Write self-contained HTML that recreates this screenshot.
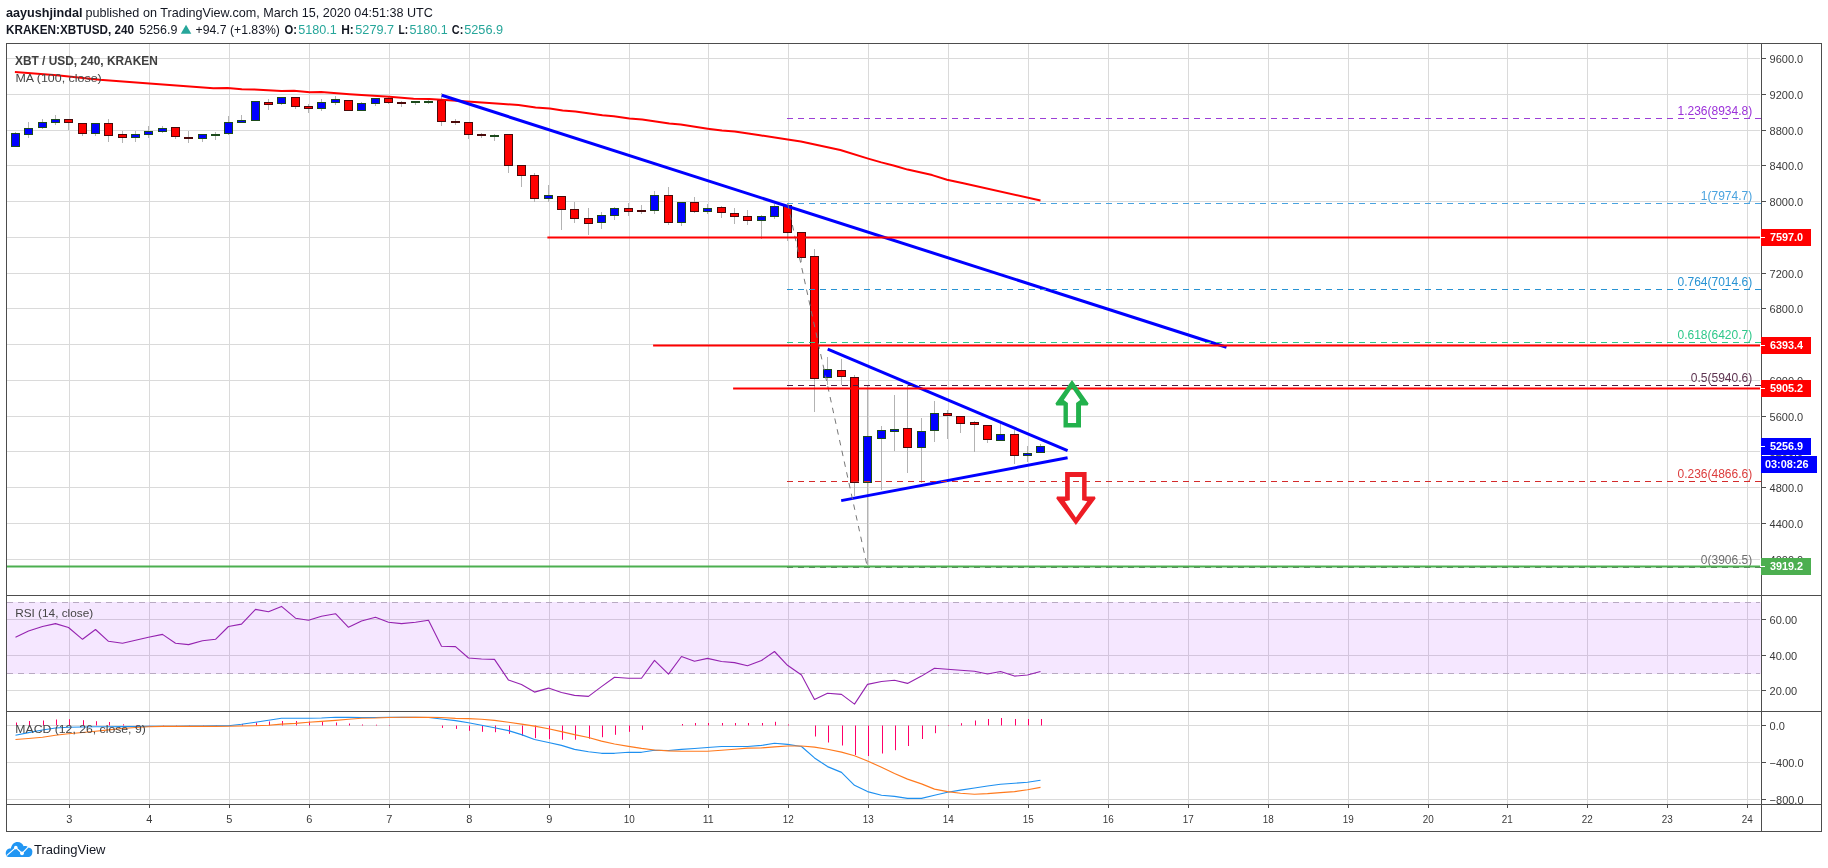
<!DOCTYPE html>
<html><head><meta charset="utf-8"><title>XBTUSD chart</title>
<style>html,body{margin:0;padding:0;background:#fff;}body{width:1828px;height:868px;overflow:hidden;}svg{display:block;will-change:transform;font-family:'Liberation Sans', Arial, sans-serif;}</style></head><body>
<svg width="1828" height="868" viewBox="0 0 1828 868">
<rect x="0" y="0" width="1828" height="868" fill="#ffffff"/>
<text x="6.0" y="17.0" font-size="13" font-weight="bold" fill="#131722" text-anchor="start" textLength="76.5" lengthAdjust="spacingAndGlyphs">aayushjindal</text>
<text x="85.4" y="17.0" font-size="13" fill="#131722" text-anchor="start" textLength="347.5" lengthAdjust="spacingAndGlyphs">published on TradingView.com, March 15, 2020 04:51:38 UTC</text>
<text x="6.0" y="33.7" font-size="13" font-weight="bold" fill="#131722" text-anchor="start" textLength="128.0" lengthAdjust="spacingAndGlyphs">KRAKEN:XBTUSD, 240</text>
<text x="139.2" y="33.7" font-size="13" fill="#131722" text-anchor="start" textLength="38.2" lengthAdjust="spacingAndGlyphs">5256.9</text>
<polygon points="180.8,33.7 191.3,33.7 186.05,24.7" fill="#26a69a"/>
<text x="195.6" y="33.7" font-size="13" fill="#131722" text-anchor="start" textLength="84.3" lengthAdjust="spacingAndGlyphs">+94.7 (+1.83%)</text>
<text x="284.4" y="33.7" font-size="13" font-weight="bold" fill="#131722" text-anchor="start" textLength="12.5" lengthAdjust="spacingAndGlyphs">O:</text>
<text x="298.2" y="33.7" font-size="13" fill="#26a69a" text-anchor="start" textLength="38.6" lengthAdjust="spacingAndGlyphs">5180.1</text>
<text x="341.2" y="33.7" font-size="13" font-weight="bold" fill="#131722" text-anchor="start" textLength="12.6" lengthAdjust="spacingAndGlyphs">H:</text>
<text x="355.3" y="33.7" font-size="13" fill="#26a69a" text-anchor="start" textLength="38.8" lengthAdjust="spacingAndGlyphs">5279.7</text>
<text x="398.5" y="33.7" font-size="13" font-weight="bold" fill="#131722" text-anchor="start" textLength="9.6" lengthAdjust="spacingAndGlyphs">L:</text>
<text x="409.4" y="33.7" font-size="13" fill="#26a69a" text-anchor="start" textLength="38.4" lengthAdjust="spacingAndGlyphs">5180.1</text>
<text x="451.8" y="33.7" font-size="13" font-weight="bold" fill="#131722" text-anchor="start" textLength="11.5" lengthAdjust="spacingAndGlyphs">C:</text>
<text x="464.2" y="33.7" font-size="13" fill="#26a69a" text-anchor="start" textLength="38.9" lengthAdjust="spacingAndGlyphs">5256.9</text>
<g shape-rendering="crispEdges"><rect x="69" y="44" width="1" height="760" fill="#dadada"/><rect x="149" y="44" width="1" height="760" fill="#dadada"/><rect x="229" y="44" width="1" height="760" fill="#dadada"/><rect x="309" y="44" width="1" height="760" fill="#dadada"/><rect x="389" y="44" width="1" height="760" fill="#dadada"/><rect x="469" y="44" width="1" height="760" fill="#dadada"/><rect x="549" y="44" width="1" height="760" fill="#dadada"/><rect x="629" y="44" width="1" height="760" fill="#dadada"/><rect x="708" y="44" width="1" height="760" fill="#dadada"/><rect x="788" y="44" width="1" height="760" fill="#dadada"/><rect x="868" y="44" width="1" height="760" fill="#dadada"/><rect x="948" y="44" width="1" height="760" fill="#dadada"/><rect x="1028" y="44" width="1" height="760" fill="#dadada"/><rect x="1108" y="44" width="1" height="760" fill="#dadada"/><rect x="1188" y="44" width="1" height="760" fill="#dadada"/><rect x="1268" y="44" width="1" height="760" fill="#dadada"/><rect x="1348" y="44" width="1" height="760" fill="#dadada"/><rect x="1428" y="44" width="1" height="760" fill="#dadada"/><rect x="1507" y="44" width="1" height="760" fill="#dadada"/><rect x="1587" y="44" width="1" height="760" fill="#dadada"/><rect x="1667" y="44" width="1" height="760" fill="#dadada"/><rect x="1747" y="44" width="1" height="760" fill="#dadada"/><rect x="7" y="58" width="1753" height="1" fill="#dadada"/><rect x="7" y="94" width="1753" height="1" fill="#dadada"/><rect x="7" y="130" width="1753" height="1" fill="#dadada"/><rect x="7" y="165" width="1753" height="1" fill="#dadada"/><rect x="7" y="201" width="1753" height="1" fill="#dadada"/><rect x="7" y="237" width="1753" height="1" fill="#dadada"/><rect x="7" y="273" width="1753" height="1" fill="#dadada"/><rect x="7" y="308" width="1753" height="1" fill="#dadada"/><rect x="7" y="344" width="1753" height="1" fill="#dadada"/><rect x="7" y="380" width="1753" height="1" fill="#dadada"/><rect x="7" y="416" width="1753" height="1" fill="#dadada"/><rect x="7" y="451" width="1753" height="1" fill="#dadada"/><rect x="7" y="487" width="1753" height="1" fill="#dadada"/><rect x="7" y="523" width="1753" height="1" fill="#dadada"/><rect x="7" y="559" width="1753" height="1" fill="#dadada"/><rect x="7" y="619" width="1753" height="1" fill="#dadada"/><rect x="7" y="655" width="1753" height="1" fill="#dadada"/><rect x="7" y="690" width="1753" height="1" fill="#dadada"/><rect x="7" y="725" width="1753" height="1" fill="#dadada"/><rect x="7" y="762" width="1753" height="1" fill="#dadada"/><rect x="7" y="799" width="1753" height="1" fill="#dadada"/></g>
<line x1="7" y1="602.5" x2="1760" y2="602.5" stroke="#bcbcbc" stroke-width="1" stroke-dasharray="6 5" shape-rendering="crispEdges"/>
<line x1="7" y1="673.5" x2="1760" y2="673.5" stroke="#bcbcbc" stroke-width="1" stroke-dasharray="6 5" shape-rendering="crispEdges"/>
<rect x="7" y="602" width="1754" height="72" fill="#9915ff" fill-opacity="0.1" shape-rendering="crispEdges"/>
<g shape-rendering="crispEdges"><rect x="15" y="132" width="1" height="15" fill="#b3b3b3"/><rect x="28" y="122" width="1" height="16" fill="#b3b3b3"/><rect x="42" y="119" width="1" height="10" fill="#b3b3b3"/><rect x="55" y="115" width="1" height="10" fill="#b3b3b3"/><rect x="68" y="119" width="1" height="11" fill="#b3b3b3"/><rect x="82" y="123" width="1" height="13" fill="#b3b3b3"/><rect x="95" y="123" width="1" height="13" fill="#b3b3b3"/><rect x="108" y="119" width="1" height="23" fill="#b3b3b3"/><rect x="122" y="131" width="1" height="12" fill="#b3b3b3"/><rect x="135" y="131" width="1" height="11" fill="#b3b3b3"/><rect x="148" y="126" width="1" height="12" fill="#b3b3b3"/><rect x="162" y="126" width="1" height="7" fill="#b3b3b3"/><rect x="175" y="127" width="1" height="12" fill="#b3b3b3"/><rect x="188" y="131" width="1" height="12" fill="#b3b3b3"/><rect x="202" y="134" width="1" height="8" fill="#b3b3b3"/><rect x="215" y="132" width="1" height="8" fill="#b3b3b3"/><rect x="228" y="116" width="1" height="19" fill="#b3b3b3"/><rect x="241" y="115" width="1" height="8" fill="#b3b3b3"/><rect x="255" y="101" width="1" height="20" fill="#b3b3b3"/><rect x="268" y="99" width="1" height="11" fill="#b3b3b3"/><rect x="281" y="97" width="1" height="8" fill="#b3b3b3"/><rect x="295" y="97" width="1" height="12" fill="#b3b3b3"/><rect x="308" y="104" width="1" height="9" fill="#b3b3b3"/><rect x="321" y="99" width="1" height="12" fill="#b3b3b3"/><rect x="335" y="96" width="1" height="9" fill="#b3b3b3"/><rect x="348" y="100" width="1" height="11" fill="#b3b3b3"/><rect x="361" y="102" width="1" height="9" fill="#b3b3b3"/><rect x="375" y="98" width="1" height="8" fill="#b3b3b3"/><rect x="388" y="96" width="1" height="8" fill="#b3b3b3"/><rect x="401" y="101" width="1" height="6" fill="#b3b3b3"/><rect x="415" y="101" width="1" height="4" fill="#b3b3b3"/><rect x="428" y="99" width="1" height="5" fill="#b3b3b3"/><rect x="441" y="93" width="1" height="33" fill="#b3b3b3"/><rect x="455" y="119" width="1" height="6" fill="#b3b3b3"/><rect x="468" y="122" width="1" height="17" fill="#b3b3b3"/><rect x="481" y="133" width="1" height="5" fill="#b3b3b3"/><rect x="494" y="134" width="1" height="7" fill="#b3b3b3"/><rect x="508" y="134" width="1" height="39" fill="#b3b3b3"/><rect x="521" y="165" width="1" height="22" fill="#b3b3b3"/><rect x="534" y="173" width="1" height="29" fill="#b3b3b3"/><rect x="548" y="185" width="1" height="17" fill="#b3b3b3"/><rect x="561" y="196" width="1" height="34" fill="#b3b3b3"/><rect x="574" y="202" width="1" height="21" fill="#b3b3b3"/><rect x="588" y="208" width="1" height="27" fill="#b3b3b3"/><rect x="601" y="212" width="1" height="17" fill="#b3b3b3"/><rect x="614" y="207" width="1" height="13" fill="#b3b3b3"/><rect x="628" y="203" width="1" height="13" fill="#b3b3b3"/><rect x="641" y="205" width="1" height="9" fill="#b3b3b3"/><rect x="654" y="191" width="1" height="23" fill="#b3b3b3"/><rect x="668" y="187" width="1" height="38" fill="#b3b3b3"/><rect x="681" y="202" width="1" height="24" fill="#b3b3b3"/><rect x="694" y="197" width="1" height="16" fill="#b3b3b3"/><rect x="707" y="204" width="1" height="10" fill="#b3b3b3"/><rect x="721" y="206" width="1" height="12" fill="#b3b3b3"/><rect x="734" y="208" width="1" height="16" fill="#b3b3b3"/><rect x="747" y="210" width="1" height="15" fill="#b3b3b3"/><rect x="761" y="215" width="1" height="24" fill="#b3b3b3"/><rect x="774" y="204" width="1" height="15" fill="#b3b3b3"/><rect x="787" y="205" width="1" height="36" fill="#b3b3b3"/><rect x="801" y="232" width="1" height="30" fill="#b3b3b3"/><rect x="814" y="249" width="1" height="163" fill="#b3b3b3"/><rect x="827" y="357" width="1" height="28" fill="#b3b3b3"/><rect x="841" y="359" width="1" height="26" fill="#b3b3b3"/><rect x="854" y="375" width="1" height="121" fill="#b3b3b3"/><rect x="867" y="386" width="1" height="179" fill="#b3b3b3"/><rect x="881" y="426" width="1" height="64" fill="#b3b3b3"/><rect x="894" y="395" width="1" height="56" fill="#b3b3b3"/><rect x="907" y="385" width="1" height="88" fill="#b3b3b3"/><rect x="921" y="418" width="1" height="65" fill="#b3b3b3"/><rect x="934" y="401" width="1" height="41" fill="#b3b3b3"/><rect x="947" y="410" width="1" height="29" fill="#b3b3b3"/><rect x="960" y="416" width="1" height="17" fill="#b3b3b3"/><rect x="974" y="421" width="1" height="31" fill="#b3b3b3"/><rect x="987" y="425" width="1" height="18" fill="#b3b3b3"/><rect x="1000" y="423" width="1" height="18" fill="#b3b3b3"/><rect x="1014" y="430" width="1" height="34" fill="#b3b3b3"/><rect x="1027" y="446" width="1" height="16" fill="#b3b3b3"/><rect x="1040" y="444" width="1" height="9" fill="#b3b3b3"/><rect x="11" y="133" width="9" height="14" fill="#1c4a1c"/><rect x="12" y="134" width="7" height="12" fill="#0000ff"/><rect x="24" y="128" width="9" height="7" fill="#1c4a1c"/><rect x="25" y="129" width="7" height="5" fill="#0000ff"/><rect x="38" y="122" width="9" height="6" fill="#1c4a1c"/><rect x="39" y="123" width="7" height="4" fill="#0000ff"/><rect x="51" y="119" width="9" height="4" fill="#1c4a1c"/><rect x="52" y="120" width="7" height="2" fill="#0000ff"/><rect x="64" y="119" width="9" height="4" fill="#4a0a0a"/><rect x="65" y="120" width="7" height="2" fill="#ff0000"/><rect x="78" y="123" width="9" height="11" fill="#4a0a0a"/><rect x="79" y="124" width="7" height="9" fill="#ff0000"/><rect x="91" y="123" width="9" height="11" fill="#1c4a1c"/><rect x="92" y="124" width="7" height="9" fill="#0000ff"/><rect x="104" y="123" width="9" height="13" fill="#4a0a0a"/><rect x="105" y="124" width="7" height="11" fill="#ff0000"/><rect x="118" y="134" width="9" height="4" fill="#4a0a0a"/><rect x="119" y="135" width="7" height="2" fill="#ff0000"/><rect x="131" y="134" width="9" height="4" fill="#1c4a1c"/><rect x="132" y="135" width="7" height="2" fill="#0000ff"/><rect x="144" y="131" width="9" height="4" fill="#1c4a1c"/><rect x="145" y="132" width="7" height="2" fill="#0000ff"/><rect x="158" y="128" width="9" height="4" fill="#1c4a1c"/><rect x="159" y="129" width="7" height="2" fill="#0000ff"/><rect x="171" y="127" width="9" height="10" fill="#4a0a0a"/><rect x="172" y="128" width="7" height="8" fill="#ff0000"/><rect x="184" y="137" width="9" height="2" fill="#4a0a0a"/><rect x="198" y="134" width="9" height="5" fill="#1c4a1c"/><rect x="199" y="135" width="7" height="3" fill="#0000ff"/><rect x="211" y="134" width="9" height="2" fill="#1c4a1c"/><rect x="224" y="122" width="9" height="12" fill="#1c4a1c"/><rect x="225" y="123" width="7" height="10" fill="#0000ff"/><rect x="237" y="120" width="9" height="3" fill="#1c4a1c"/><rect x="238" y="121" width="7" height="1" fill="#0000ff"/><rect x="251" y="101" width="9" height="20" fill="#1c4a1c"/><rect x="252" y="102" width="7" height="18" fill="#0000ff"/><rect x="264" y="102" width="9" height="3" fill="#4a0a0a"/><rect x="265" y="103" width="7" height="1" fill="#ff0000"/><rect x="277" y="97" width="9" height="7" fill="#1c4a1c"/><rect x="278" y="98" width="7" height="5" fill="#0000ff"/><rect x="291" y="97" width="9" height="10" fill="#4a0a0a"/><rect x="292" y="98" width="7" height="8" fill="#ff0000"/><rect x="304" y="106" width="9" height="3" fill="#4a0a0a"/><rect x="305" y="107" width="7" height="1" fill="#ff0000"/><rect x="317" y="102" width="9" height="7" fill="#1c4a1c"/><rect x="318" y="103" width="7" height="5" fill="#0000ff"/><rect x="331" y="99" width="9" height="4" fill="#1c4a1c"/><rect x="332" y="100" width="7" height="2" fill="#0000ff"/><rect x="344" y="100" width="9" height="11" fill="#4a0a0a"/><rect x="345" y="101" width="7" height="9" fill="#ff0000"/><rect x="357" y="103" width="9" height="8" fill="#1c4a1c"/><rect x="358" y="104" width="7" height="6" fill="#0000ff"/><rect x="371" y="98" width="9" height="6" fill="#1c4a1c"/><rect x="372" y="99" width="7" height="4" fill="#0000ff"/><rect x="384" y="98" width="9" height="5" fill="#4a0a0a"/><rect x="385" y="99" width="7" height="3" fill="#ff0000"/><rect x="397" y="102" width="9" height="2" fill="#4a0a0a"/><rect x="411" y="101" width="9" height="2" fill="#1c4a1c"/><rect x="424" y="101" width="9" height="2" fill="#1c4a1c"/><rect x="437" y="100" width="9" height="22" fill="#4a0a0a"/><rect x="438" y="101" width="7" height="20" fill="#ff0000"/><rect x="451" y="121" width="9" height="2" fill="#4a0a0a"/><rect x="464" y="122" width="9" height="13" fill="#4a0a0a"/><rect x="465" y="123" width="7" height="11" fill="#ff0000"/><rect x="477" y="134" width="9" height="2" fill="#4a0a0a"/><rect x="490" y="135" width="9" height="2" fill="#1c4a1c"/><rect x="504" y="134" width="9" height="32" fill="#4a0a0a"/><rect x="505" y="135" width="7" height="30" fill="#ff0000"/><rect x="517" y="165" width="9" height="11" fill="#4a0a0a"/><rect x="518" y="166" width="7" height="9" fill="#ff0000"/><rect x="530" y="175" width="9" height="24" fill="#4a0a0a"/><rect x="531" y="176" width="7" height="22" fill="#ff0000"/><rect x="544" y="195" width="9" height="4" fill="#1c4a1c"/><rect x="545" y="196" width="7" height="2" fill="#0000ff"/><rect x="557" y="196" width="9" height="14" fill="#4a0a0a"/><rect x="558" y="197" width="7" height="12" fill="#ff0000"/><rect x="570" y="209" width="9" height="10" fill="#4a0a0a"/><rect x="571" y="210" width="7" height="8" fill="#ff0000"/><rect x="584" y="218" width="9" height="6" fill="#4a0a0a"/><rect x="585" y="219" width="7" height="4" fill="#ff0000"/><rect x="597" y="215" width="9" height="8" fill="#1c4a1c"/><rect x="598" y="216" width="7" height="6" fill="#0000ff"/><rect x="610" y="208" width="9" height="8" fill="#1c4a1c"/><rect x="611" y="209" width="7" height="6" fill="#0000ff"/><rect x="624" y="208" width="9" height="4" fill="#4a0a0a"/><rect x="625" y="209" width="7" height="2" fill="#ff0000"/><rect x="637" y="210" width="9" height="2" fill="#4a0a0a"/><rect x="650" y="195" width="9" height="16" fill="#1c4a1c"/><rect x="651" y="196" width="7" height="14" fill="#0000ff"/><rect x="664" y="195" width="9" height="28" fill="#4a0a0a"/><rect x="665" y="196" width="7" height="26" fill="#ff0000"/><rect x="677" y="202" width="9" height="21" fill="#1c4a1c"/><rect x="678" y="203" width="7" height="19" fill="#0000ff"/><rect x="690" y="202" width="9" height="10" fill="#4a0a0a"/><rect x="691" y="203" width="7" height="8" fill="#ff0000"/><rect x="703" y="208" width="9" height="4" fill="#1c4a1c"/><rect x="704" y="209" width="7" height="2" fill="#0000ff"/><rect x="717" y="207" width="9" height="6" fill="#4a0a0a"/><rect x="718" y="208" width="7" height="4" fill="#ff0000"/><rect x="730" y="213" width="9" height="4" fill="#4a0a0a"/><rect x="731" y="214" width="7" height="2" fill="#ff0000"/><rect x="743" y="216" width="9" height="5" fill="#4a0a0a"/><rect x="744" y="217" width="7" height="3" fill="#ff0000"/><rect x="757" y="216" width="9" height="5" fill="#1c4a1c"/><rect x="758" y="217" width="7" height="3" fill="#0000ff"/><rect x="770" y="206" width="9" height="11" fill="#1c4a1c"/><rect x="771" y="207" width="7" height="9" fill="#0000ff"/><rect x="783" y="205" width="9" height="28" fill="#4a0a0a"/><rect x="784" y="206" width="7" height="26" fill="#ff0000"/><rect x="797" y="232" width="9" height="26" fill="#4a0a0a"/><rect x="798" y="233" width="7" height="24" fill="#ff0000"/><rect x="810" y="256" width="9" height="123" fill="#4a0a0a"/><rect x="811" y="257" width="7" height="121" fill="#ff0000"/><rect x="823" y="369" width="9" height="9" fill="#1c4a1c"/><rect x="824" y="370" width="7" height="7" fill="#0000ff"/><rect x="837" y="370" width="9" height="7" fill="#4a0a0a"/><rect x="838" y="371" width="7" height="5" fill="#ff0000"/><rect x="850" y="377" width="9" height="106" fill="#4a0a0a"/><rect x="851" y="378" width="7" height="104" fill="#ff0000"/><rect x="863" y="436" width="9" height="47" fill="#1c4a1c"/><rect x="864" y="437" width="7" height="45" fill="#0000ff"/><rect x="877" y="430" width="9" height="9" fill="#1c4a1c"/><rect x="878" y="431" width="7" height="7" fill="#0000ff"/><rect x="890" y="429" width="9" height="3" fill="#1c4a1c"/><rect x="891" y="430" width="7" height="1" fill="#0000ff"/><rect x="903" y="428" width="9" height="20" fill="#4a0a0a"/><rect x="904" y="429" width="7" height="18" fill="#ff0000"/><rect x="917" y="431" width="9" height="17" fill="#1c4a1c"/><rect x="918" y="432" width="7" height="15" fill="#0000ff"/><rect x="930" y="413" width="9" height="18" fill="#1c4a1c"/><rect x="931" y="414" width="7" height="16" fill="#0000ff"/><rect x="943" y="413" width="9" height="3" fill="#4a0a0a"/><rect x="944" y="414" width="7" height="1" fill="#ff0000"/><rect x="956" y="416" width="9" height="8" fill="#4a0a0a"/><rect x="957" y="417" width="7" height="6" fill="#ff0000"/><rect x="970" y="422" width="9" height="3" fill="#4a0a0a"/><rect x="971" y="423" width="7" height="1" fill="#ff0000"/><rect x="983" y="425" width="9" height="15" fill="#4a0a0a"/><rect x="984" y="426" width="7" height="13" fill="#ff0000"/><rect x="996" y="434" width="9" height="7" fill="#1c4a1c"/><rect x="997" y="435" width="7" height="5" fill="#0000ff"/><rect x="1010" y="434" width="9" height="22" fill="#4a0a0a"/><rect x="1011" y="435" width="7" height="20" fill="#ff0000"/><rect x="1023" y="453" width="9" height="3" fill="#1c4a1c"/><rect x="1024" y="454" width="7" height="1" fill="#0000ff"/><rect x="1036" y="446" width="9" height="7" fill="#1c4a1c"/><rect x="1037" y="447" width="7" height="5" fill="#0000ff"/></g>
<polyline points="14.9,72.1 56.9,75.2 99.6,79.8 149.4,83.4 213.4,88.3 227.6,88.0 241.8,89.2 254.3,89.4 281.3,91.1 294.1,90.8 309.7,92.2 321.1,92.1 349.6,94.2 389.4,96.8 413.6,98.8 429.2,98.9 449.1,100.3 500.0,103.8 518.5,105.0 535.6,107.4 549.8,108.5 562.6,110.4 575.4,111.4 602.4,115.3 613.8,116.3 629.4,118.5 642.2,119.5 669.3,123.4 680.7,124.6 707.7,128.7 721.9,130.6 734.7,131.4 760.0,135.3 787.7,139.4 800.9,141.4 840.3,150.0 868.2,158.6 881.3,162.4 894.4,165.7 907.6,169.6 932.2,175.1 947.0,179.7 963.4,183.3 1040.5,200.5" fill="none" stroke="#ff0000" stroke-width="2" stroke-linejoin="round"/>
<g stroke="#0000ff" stroke-width="3.0" stroke-linecap="butt" fill="none">
<line x1="441.8" y1="95.3" x2="1226.5" y2="347.2"/>
<line x1="827.7" y1="349.1" x2="1067.6" y2="450.6"/>
<line x1="841.2" y1="500.6" x2="1067.6" y2="457.8"/>
</g>
<line x1="787" y1="118.5" x2="1761" y2="118.5" stroke="#9c3fd6" stroke-width="1" stroke-dasharray="6 5" shape-rendering="crispEdges"/>
<line x1="787" y1="203.5" x2="1761" y2="203.5" stroke="#4aa3df" stroke-width="1" stroke-dasharray="6 5" shape-rendering="crispEdges"/>
<line x1="787" y1="289.5" x2="1761" y2="289.5" stroke="#2893d3" stroke-width="1" stroke-dasharray="6 5" shape-rendering="crispEdges"/>
<line x1="787" y1="342.5" x2="1761" y2="342.5" stroke="#2ec88a" stroke-width="1" stroke-dasharray="6 5" shape-rendering="crispEdges"/>
<line x1="787" y1="385.5" x2="1761" y2="385.5" stroke="#4d1a40" stroke-width="1" stroke-dasharray="6 5" shape-rendering="crispEdges"/>
<line x1="787" y1="481.5" x2="1761" y2="481.5" stroke="#d42a2a" stroke-width="1" stroke-dasharray="6 5" shape-rendering="crispEdges"/>
<line x1="787" y1="567.5" x2="1761" y2="567.5" stroke="#6a6a6a" stroke-width="1" stroke-dasharray="6 5" shape-rendering="crispEdges"/>
<text x="1752.2" y="114.7" font-size="12" fill="#9b30d9" text-anchor="end">1.236(8934.8)</text>
<text x="1752.2" y="199.7" font-size="12" fill="#4aa3df" text-anchor="end">1(7974.7)</text>
<text x="1752.2" y="285.7" font-size="12" fill="#2893d3" text-anchor="end">0.764(7014.6)</text>
<text x="1752.2" y="338.7" font-size="12" fill="#2ec88a" text-anchor="end">0.618(6420.7)</text>
<text x="1752.2" y="381.7" font-size="12" fill="#5d3350" text-anchor="end">0.5(5940.6)</text>
<text x="1752.2" y="477.7" font-size="12" fill="#dc3c3c" text-anchor="end">0.236(4866.6)</text>
<text x="1752.2" y="563.7" font-size="12" fill="#6e6e6e" text-anchor="end">0(3906.5)</text>
<line x1="787.7" y1="203.6" x2="867.5" y2="567.7" stroke="#777777" stroke-width="1" stroke-dasharray="5.5 5.5"/>
<g stroke-width="2" fill="none">
<line x1="547.4" y1="237.45" x2="1760" y2="237.45" stroke="#ff0000"/>
<line x1="653.1" y1="345.45" x2="1760" y2="345.45" stroke="#ff0000"/>
<line x1="733.1" y1="388.5" x2="1760" y2="388.5" stroke="#ff0000"/>
<line x1="7" y1="566.4" x2="1760" y2="566.4" stroke="#4caf50"/>
</g>
<path fill="#22b14c" fill-rule="evenodd" d="M1072,380 L1088.6,403.4 L1087.6,405.5 L1081,405.5 L1081,427.6 L1063.5,427.6 L1063.5,405.5 L1056.4,405.5 L1055.4,403.4 Z M1072,388.1 L1063.8,400.1 L1067.9,402.9 L1067.9,423 L1076.1,423 L1076.1,402.9 L1080.2,400.1 Z"/>
<path fill="#ed1c24" fill-rule="evenodd" d="M1065.1,472.1 L1086.6,472.1 L1086.6,496.4 L1094.9,496.4 L1095.6,498.4 L1075.9,525.1 L1056.3,498.4 L1057,496.4 L1065.1,496.4 Z M1069.8,476.9 L1069.8,500.2 L1064.8,501.2 L1075.9,517.4 L1087.3,501.2 L1082.1,500.2 L1082.1,476.9 Z"/>
<polyline points="15.5,637.3 28.5,631.0 42.5,626.5 55.5,623.6 68.5,627.5 82.5,639.3 95.5,629.5 108.5,641.3 122.5,643.2 135.5,640.3 148.5,637.3 162.5,634.4 175.5,643.2 188.5,644.6 202.5,640.7 215.5,639.3 228.5,626.5 241.5,624.1 255.5,609.4 268.5,611.7 281.5,606.4 295.5,618.2 308.5,620.2 321.5,616.3 335.5,613.7 348.5,627.3 361.5,621.0 375.5,617.3 388.5,622.2 401.5,623.6 415.5,622.2 428.5,620.2 441.5,646.2 455.5,646.6 468.5,658.0 481.5,659.0 494.5,659.4 508.5,680.1 521.5,684.6 534.5,692.1 548.5,688.1 561.5,692.5 574.5,695.4 588.5,696.4 601.5,686.6 614.5,677.3 628.5,678.3 641.5,678.3 654.5,660.4 668.5,674.2 681.5,656.5 694.5,661.3 707.5,658.4 721.5,661.5 734.5,662.6 747.5,665.7 761.5,660.5 774.5,651.5 787.5,665.3 801.5,675.0 814.5,699.4 827.5,693.3 841.5,694.4 854.5,704.1 867.5,684.4 881.5,681.5 894.5,680.2 907.5,683.4 921.5,676.1 934.5,668.2 947.5,669.2 960.5,670.3 974.5,671.3 987.5,674.0 1000.5,671.5 1014.5,676.1 1027.5,675.0 1040.5,671.5" fill="none" stroke="#9523b0" stroke-width="1.1" stroke-linejoin="round"/>
<g><rect x="16" y="722.5" width="1" height="3.0" fill="#ff0068"/><rect x="29" y="721.0" width="1" height="4.5" fill="#ff0068"/><rect x="43" y="720.5" width="1" height="5.0" fill="#ff0068"/><rect x="56" y="719.5" width="1" height="6.0" fill="#ff0068"/><rect x="69" y="719.2" width="1" height="6.3" fill="#ff0068"/><rect x="83" y="720.2" width="1" height="5.3" fill="#ff0068"/><rect x="96" y="721.2" width="1" height="4.3" fill="#ff0068"/><rect x="109" y="722.0" width="1" height="3.5" fill="#ff0068"/><rect x="123" y="724.3" width="1" height="1.2" fill="#ff0068"/><rect x="136" y="725.0" width="1" height="0.5" fill="#ff0068"/><rect x="149" y="725.2" width="1" height="0.3" fill="#ff0068"/><rect x="163" y="725.2" width="1" height="0.3" fill="#ff0068"/><rect x="176" y="725.2" width="1" height="0.3" fill="#ff0068"/><rect x="189" y="725.2" width="1" height="0.3" fill="#ff0068"/><rect x="203" y="725.2" width="1" height="0.3" fill="#ff0068"/><rect x="216" y="725.2" width="1" height="0.3" fill="#ff0068"/><rect x="229" y="725.0" width="1" height="0.5" fill="#ff0068"/><rect x="242" y="724.0" width="1" height="1.5" fill="#ff0068"/><rect x="256" y="722.5" width="1" height="3.0" fill="#ff0068"/><rect x="269" y="721.5" width="1" height="4.0" fill="#ff0068"/><rect x="282" y="721.0" width="1" height="4.5" fill="#ff0068"/><rect x="296" y="721.0" width="1" height="4.5" fill="#ff0068"/><rect x="309" y="721.5" width="1" height="4.0" fill="#ff0068"/><rect x="322" y="722.0" width="1" height="3.5" fill="#ff0068"/><rect x="336" y="722.5" width="1" height="3.0" fill="#ff0068"/><rect x="349" y="723.5" width="1" height="2.0" fill="#ff0068"/><rect x="362" y="724.5" width="1" height="1.0" fill="#ff0068"/><rect x="376" y="724.7" width="1" height="0.8" fill="#ff0068"/><rect x="389" y="725.0" width="1" height="0.5" fill="#ff0068"/><rect x="442" y="725.5" width="1" height="2.4" fill="#ff0068"/><rect x="456" y="725.5" width="1" height="3.4" fill="#ff0068"/><rect x="469" y="725.5" width="1" height="5.3" fill="#ff0068"/><rect x="482" y="725.5" width="1" height="6.3" fill="#ff0068"/><rect x="495" y="725.5" width="1" height="6.7" fill="#ff0068"/><rect x="509" y="725.5" width="1" height="8.3" fill="#ff0068"/><rect x="522" y="725.5" width="1" height="10.3" fill="#ff0068"/><rect x="535" y="725.5" width="1" height="12.6" fill="#ff0068"/><rect x="549" y="725.5" width="1" height="13.6" fill="#ff0068"/><rect x="562" y="725.5" width="1" height="14.2" fill="#ff0068"/><rect x="575" y="725.5" width="1" height="14.2" fill="#ff0068"/><rect x="589" y="725.5" width="1" height="13.2" fill="#ff0068"/><rect x="602" y="725.5" width="1" height="11.7" fill="#ff0068"/><rect x="615" y="725.5" width="1" height="9.3" fill="#ff0068"/><rect x="629" y="725.5" width="1" height="6.3" fill="#ff0068"/><rect x="642" y="725.5" width="1" height="4.4" fill="#ff0068"/><rect x="682" y="724.0" width="1" height="1.5" fill="#ff0068"/><rect x="695" y="723.0" width="1" height="2.5" fill="#ff0068"/><rect x="708" y="723.0" width="1" height="2.5" fill="#ff0068"/><rect x="722" y="723.0" width="1" height="2.5" fill="#ff0068"/><rect x="735" y="723.0" width="1" height="2.5" fill="#ff0068"/><rect x="748" y="723.0" width="1" height="2.5" fill="#ff0068"/><rect x="762" y="723.0" width="1" height="2.5" fill="#ff0068"/><rect x="775" y="721.8" width="1" height="3.7" fill="#ff0068"/><rect x="788" y="724.5" width="1" height="1.0" fill="#ff0068"/><rect x="815" y="725.5" width="1" height="11.0" fill="#ff0068"/><rect x="828" y="725.5" width="1" height="17.0" fill="#ff0068"/><rect x="842" y="725.5" width="1" height="20.0" fill="#ff0068"/><rect x="855" y="725.5" width="1" height="29.5" fill="#ff0068"/><rect x="868" y="725.5" width="1" height="30.5" fill="#ff0068"/><rect x="882" y="725.5" width="1" height="28.0" fill="#ff0068"/><rect x="895" y="725.5" width="1" height="24.7" fill="#ff0068"/><rect x="908" y="725.5" width="1" height="20.5" fill="#ff0068"/><rect x="922" y="725.5" width="1" height="13.5" fill="#ff0068"/><rect x="935" y="725.5" width="1" height="7.7" fill="#ff0068"/><rect x="948" y="725.5" width="1" height="0.5" fill="#ff0068"/><rect x="961" y="723.2" width="1" height="2.3" fill="#ff0068"/><rect x="975" y="720.5" width="1" height="5.0" fill="#ff0068"/><rect x="988" y="719.0" width="1" height="6.5" fill="#ff0068"/><rect x="1001" y="718.0" width="1" height="7.5" fill="#ff0068"/><rect x="1015" y="719.0" width="1" height="6.5" fill="#ff0068"/><rect x="1028" y="719.0" width="1" height="6.5" fill="#ff0068"/><rect x="1041" y="719.0" width="1" height="6.5" fill="#ff0068"/></g>
<polyline points="15.5,735.3 28.5,732.6 42.5,730.0 55.5,728.0 68.5,727.3 82.5,727.0 95.5,726.8 108.5,726.7 122.5,726.6 135.5,726.5 148.5,726.4 162.5,726.3 175.5,726.2 188.5,726.1 202.5,726.0 215.5,725.9 228.5,725.7 241.5,724.3 255.5,722.2 268.5,720.2 281.5,718.2 295.5,718.2 308.5,718.2 321.5,718.0 335.5,717.3 348.5,717.3 361.5,717.5 375.5,717.5 388.5,717.3 401.5,717.3 415.5,717.3 428.5,717.5 441.5,719.0 455.5,720.6 468.5,722.8 481.5,725.3 494.5,727.7 508.5,730.6 521.5,734.6 534.5,739.5 548.5,742.5 561.5,745.4 574.5,749.4 588.5,751.7 601.5,753.3 614.5,753.3 628.5,752.3 641.5,752.3 654.5,750.3 668.5,750.5 681.5,749.4 694.5,748.5 707.5,747.5 721.5,746.5 734.5,746.5 747.5,746.5 761.5,745.4 774.5,743.3 787.5,744.4 801.5,746.5 814.5,757.9 827.5,766.6 841.5,772.4 854.5,785.3 867.5,791.6 881.5,795.3 894.5,796.4 907.5,798.4 921.5,798.4 934.5,795.3 947.5,792.2 960.5,790.1 974.5,788.0 987.5,786.0 1000.5,784.3 1014.5,783.3 1027.5,782.2 1040.5,780.3" fill="none" stroke="#1e90f0" stroke-width="1.15" stroke-linejoin="round"/>
<polyline points="15.5,739.5 28.5,738.5 42.5,737.3 55.5,735.2 68.5,733.7 82.5,732.5 95.5,731.3 108.5,729.9 122.5,728.5 135.5,727.5 148.5,726.8 162.5,726.4 175.5,726.3 188.5,726.3 202.5,726.3 215.5,726.3 228.5,726.2 241.5,726.0 255.5,725.7 268.5,725.3 281.5,724.1 295.5,723.4 308.5,722.2 321.5,721.4 335.5,720.4 348.5,719.3 361.5,718.2 375.5,718.0 388.5,717.5 401.5,717.3 415.5,717.3 428.5,717.3 441.5,717.5 455.5,718.4 468.5,718.6 481.5,719.2 494.5,720.4 508.5,722.2 521.5,724.1 534.5,726.1 548.5,728.7 561.5,731.6 574.5,734.6 588.5,737.5 601.5,741.1 614.5,744.0 628.5,746.4 641.5,748.4 654.5,750.0 668.5,750.9 681.5,751.2 694.5,751.2 707.5,751.2 721.5,750.2 734.5,749.2 747.5,748.1 761.5,747.9 774.5,746.9 787.5,746.0 801.5,746.0 814.5,747.1 827.5,749.2 841.5,752.1 854.5,755.8 867.5,761.0 881.5,767.2 894.5,773.5 907.5,779.1 921.5,783.9 934.5,789.1 947.5,791.6 960.5,793.2 974.5,794.3 987.5,793.6 1000.5,792.6 1014.5,791.6 1027.5,789.7 1040.5,787.4" fill="none" stroke="#ff7a1e" stroke-width="1.15" stroke-linejoin="round"/>
<text x="15.3" y="732.5" font-size="11.5" fill="#454545" text-anchor="start" textLength="130.5" lengthAdjust="spacingAndGlyphs">MACD (12, 26, close, 9)</text>
<text x="15.0" y="64.6" font-size="12" font-weight="bold" fill="#404040" text-anchor="start" textLength="142.8" lengthAdjust="spacingAndGlyphs">XBT / USD, 240, KRAKEN</text>
<text x="15.4" y="81.7" font-size="11.3" fill="#454545" text-anchor="start" textLength="86.3" lengthAdjust="spacingAndGlyphs">MA (100, close)</text>
<text x="15.2" y="616.7" font-size="11.5" fill="#454545" text-anchor="start" textLength="78.0" lengthAdjust="spacingAndGlyphs">RSI (14, close)</text>
<g shape-rendering="crispEdges"><rect x="6" y="43" width="1816" height="1" fill="#4d4d4d"/><rect x="6" y="831" width="1816" height="1" fill="#4d4d4d"/><rect x="6" y="43" width="1" height="789" fill="#4d4d4d"/><rect x="1821" y="43" width="1" height="789" fill="#4d4d4d"/><rect x="1761" y="43" width="1" height="789" fill="#4d4d4d"/><rect x="6" y="595" width="1816" height="1" fill="#4d4d4d"/><rect x="6" y="711" width="1816" height="1" fill="#4d4d4d"/><rect x="6" y="804" width="1816" height="1" fill="#4d4d4d"/><rect x="1762" y="58" width="4" height="1" fill="#4d4d4d"/><rect x="1762" y="94" width="4" height="1" fill="#4d4d4d"/><rect x="1762" y="130" width="4" height="1" fill="#4d4d4d"/><rect x="1762" y="165" width="4" height="1" fill="#4d4d4d"/><rect x="1762" y="201" width="4" height="1" fill="#4d4d4d"/><rect x="1762" y="237" width="4" height="1" fill="#4d4d4d"/><rect x="1762" y="273" width="4" height="1" fill="#4d4d4d"/><rect x="1762" y="308" width="4" height="1" fill="#4d4d4d"/><rect x="1762" y="344" width="4" height="1" fill="#4d4d4d"/><rect x="1762" y="380" width="4" height="1" fill="#4d4d4d"/><rect x="1762" y="416" width="4" height="1" fill="#4d4d4d"/><rect x="1762" y="451" width="4" height="1" fill="#4d4d4d"/><rect x="1762" y="487" width="4" height="1" fill="#4d4d4d"/><rect x="1762" y="523" width="4" height="1" fill="#4d4d4d"/><rect x="1762" y="559" width="4" height="1" fill="#4d4d4d"/><rect x="1762" y="619" width="4" height="1" fill="#4d4d4d"/><rect x="1762" y="655" width="4" height="1" fill="#4d4d4d"/><rect x="1762" y="690" width="4" height="1" fill="#4d4d4d"/><rect x="1762" y="725" width="4" height="1" fill="#4d4d4d"/><rect x="1762" y="762" width="4" height="1" fill="#4d4d4d"/><rect x="1762" y="799" width="4" height="1" fill="#4d4d4d"/><rect x="69" y="805" width="1" height="3" fill="#4d4d4d"/><rect x="149" y="805" width="1" height="3" fill="#4d4d4d"/><rect x="229" y="805" width="1" height="3" fill="#4d4d4d"/><rect x="309" y="805" width="1" height="3" fill="#4d4d4d"/><rect x="389" y="805" width="1" height="3" fill="#4d4d4d"/><rect x="469" y="805" width="1" height="3" fill="#4d4d4d"/><rect x="549" y="805" width="1" height="3" fill="#4d4d4d"/><rect x="629" y="805" width="1" height="3" fill="#4d4d4d"/><rect x="708" y="805" width="1" height="3" fill="#4d4d4d"/><rect x="788" y="805" width="1" height="3" fill="#4d4d4d"/><rect x="868" y="805" width="1" height="3" fill="#4d4d4d"/><rect x="948" y="805" width="1" height="3" fill="#4d4d4d"/><rect x="1028" y="805" width="1" height="3" fill="#4d4d4d"/><rect x="1108" y="805" width="1" height="3" fill="#4d4d4d"/><rect x="1188" y="805" width="1" height="3" fill="#4d4d4d"/><rect x="1268" y="805" width="1" height="3" fill="#4d4d4d"/><rect x="1348" y="805" width="1" height="3" fill="#4d4d4d"/><rect x="1428" y="805" width="1" height="3" fill="#4d4d4d"/><rect x="1507" y="805" width="1" height="3" fill="#4d4d4d"/><rect x="1587" y="805" width="1" height="3" fill="#4d4d4d"/><rect x="1667" y="805" width="1" height="3" fill="#4d4d4d"/><rect x="1747" y="805" width="1" height="3" fill="#4d4d4d"/></g>
<text x="1769.6" y="62.6" font-size="11" fill="#3a3a3a" text-anchor="start">9600.0</text>
<text x="1769.6" y="98.6" font-size="11" fill="#3a3a3a" text-anchor="start">9200.0</text>
<text x="1769.6" y="134.6" font-size="11" fill="#3a3a3a" text-anchor="start">8800.0</text>
<text x="1769.6" y="169.6" font-size="11" fill="#3a3a3a" text-anchor="start">8400.0</text>
<text x="1769.6" y="205.6" font-size="11" fill="#3a3a3a" text-anchor="start">8000.0</text>
<text x="1769.6" y="241.6" font-size="11" fill="#3a3a3a" text-anchor="start">7600.0</text>
<text x="1769.6" y="277.6" font-size="11" fill="#3a3a3a" text-anchor="start">7200.0</text>
<text x="1769.6" y="312.6" font-size="11" fill="#3a3a3a" text-anchor="start">6800.0</text>
<text x="1769.6" y="348.6" font-size="11" fill="#3a3a3a" text-anchor="start">6400.0</text>
<text x="1769.6" y="384.6" font-size="11" fill="#3a3a3a" text-anchor="start">6000.0</text>
<text x="1769.6" y="420.6" font-size="11" fill="#3a3a3a" text-anchor="start">5600.0</text>
<text x="1769.6" y="455.6" font-size="11" fill="#3a3a3a" text-anchor="start">5200.0</text>
<text x="1769.6" y="491.6" font-size="11" fill="#3a3a3a" text-anchor="start">4800.0</text>
<text x="1769.6" y="527.6" font-size="11" fill="#3a3a3a" text-anchor="start">4400.0</text>
<text x="1769.6" y="563.6" font-size="11" fill="#3a3a3a" text-anchor="start">4000.0</text>
<text x="1769.6" y="623.6" font-size="11" fill="#3a3a3a" text-anchor="start">60.00</text>
<text x="1769.6" y="659.6" font-size="11" fill="#3a3a3a" text-anchor="start">40.00</text>
<text x="1769.6" y="694.6" font-size="11" fill="#3a3a3a" text-anchor="start">20.00</text>
<text x="1769.6" y="729.6" font-size="11" fill="#3a3a3a" text-anchor="start">0.0</text>
<text x="1769.6" y="766.6" font-size="11" fill="#3a3a3a" text-anchor="start">−400.0</text>
<text x="1769.6" y="803.6" font-size="11" fill="#3a3a3a" text-anchor="start">−800.0</text>
<rect x="1762" y="805" width="59" height="26" fill="#ffffff"/>
<text x="69.2" y="823.0" font-size="11" fill="#3a3a3a" text-anchor="middle">3</text>
<text x="149.2" y="823.0" font-size="11" fill="#3a3a3a" text-anchor="middle">4</text>
<text x="229.2" y="823.0" font-size="11" fill="#3a3a3a" text-anchor="middle">5</text>
<text x="309.2" y="823.0" font-size="11" fill="#3a3a3a" text-anchor="middle">6</text>
<text x="389.2" y="823.0" font-size="11" fill="#3a3a3a" text-anchor="middle">7</text>
<text x="469.2" y="823.0" font-size="11" fill="#3a3a3a" text-anchor="middle">8</text>
<text x="549.2" y="823.0" font-size="11" fill="#3a3a3a" text-anchor="middle">9</text>
<text x="629.2" y="823.0" font-size="11" fill="#3a3a3a" text-anchor="middle" textLength="11.0" lengthAdjust="spacingAndGlyphs">10</text>
<text x="708.2" y="823.0" font-size="11" fill="#3a3a3a" text-anchor="middle" textLength="11.0" lengthAdjust="spacingAndGlyphs">11</text>
<text x="788.2" y="823.0" font-size="11" fill="#3a3a3a" text-anchor="middle" textLength="11.0" lengthAdjust="spacingAndGlyphs">12</text>
<text x="868.2" y="823.0" font-size="11" fill="#3a3a3a" text-anchor="middle" textLength="11.0" lengthAdjust="spacingAndGlyphs">13</text>
<text x="948.2" y="823.0" font-size="11" fill="#3a3a3a" text-anchor="middle" textLength="11.0" lengthAdjust="spacingAndGlyphs">14</text>
<text x="1028.2" y="823.0" font-size="11" fill="#3a3a3a" text-anchor="middle" textLength="11.0" lengthAdjust="spacingAndGlyphs">15</text>
<text x="1108.2" y="823.0" font-size="11" fill="#3a3a3a" text-anchor="middle" textLength="11.0" lengthAdjust="spacingAndGlyphs">16</text>
<text x="1188.2" y="823.0" font-size="11" fill="#3a3a3a" text-anchor="middle" textLength="11.0" lengthAdjust="spacingAndGlyphs">17</text>
<text x="1268.2" y="823.0" font-size="11" fill="#3a3a3a" text-anchor="middle" textLength="11.0" lengthAdjust="spacingAndGlyphs">18</text>
<text x="1348.2" y="823.0" font-size="11" fill="#3a3a3a" text-anchor="middle" textLength="11.0" lengthAdjust="spacingAndGlyphs">19</text>
<text x="1428.2" y="823.0" font-size="11" fill="#3a3a3a" text-anchor="middle" textLength="11.0" lengthAdjust="spacingAndGlyphs">20</text>
<text x="1507.2" y="823.0" font-size="11" fill="#3a3a3a" text-anchor="middle" textLength="11.0" lengthAdjust="spacingAndGlyphs">21</text>
<text x="1587.2" y="823.0" font-size="11" fill="#3a3a3a" text-anchor="middle" textLength="11.0" lengthAdjust="spacingAndGlyphs">22</text>
<text x="1667.2" y="823.0" font-size="11" fill="#3a3a3a" text-anchor="middle" textLength="11.0" lengthAdjust="spacingAndGlyphs">23</text>
<text x="1747.2" y="823.0" font-size="11" fill="#3a3a3a" text-anchor="middle" textLength="11.0" lengthAdjust="spacingAndGlyphs">24</text>
<g shape-rendering="crispEdges">
<rect x="1761" y="229" width="50" height="17" fill="#ff0000"/><rect x="1761" y="237" width="4" height="1" fill="#ffffff"/><text x="1769.9" y="240.9" font-size="11" font-weight="bold" fill="#ffffff" text-anchor="start" textLength="33.2" lengthAdjust="spacingAndGlyphs">7597.0</text>
<rect x="1761" y="337" width="50" height="17" fill="#ff0000"/><rect x="1761" y="345" width="4" height="1" fill="#ffffff"/><text x="1769.9" y="348.9" font-size="11" font-weight="bold" fill="#ffffff" text-anchor="start" textLength="33.2" lengthAdjust="spacingAndGlyphs">6393.4</text>
<rect x="1761" y="380" width="50" height="17" fill="#ff0000"/><rect x="1761" y="388" width="4" height="1" fill="#ffffff"/><text x="1769.9" y="391.9" font-size="11" font-weight="bold" fill="#ffffff" text-anchor="start" textLength="33.2" lengthAdjust="spacingAndGlyphs">5905.2</text>
<rect x="1761" y="438" width="50" height="17" fill="#0000ff"/><rect x="1761" y="446" width="4" height="1" fill="#ffffff"/><text x="1769.9" y="449.9" font-size="11" font-weight="bold" fill="#ffffff" text-anchor="start" textLength="33.2" lengthAdjust="spacingAndGlyphs">5256.9</text>
<rect x="1761" y="456" width="56" height="17" fill="#0000ff"/>
<text x="1765.0" y="467.8" font-size="11" font-weight="bold" fill="#ffffff" text-anchor="start" textLength="43.6" lengthAdjust="spacingAndGlyphs">03:08:26</text>
<rect x="1761" y="558" width="50" height="17" fill="#4caf50"/><rect x="1761" y="566" width="4" height="1" fill="#ffffff"/><text x="1769.9" y="569.9" font-size="11" font-weight="bold" fill="#ffffff" text-anchor="start" textLength="33.2" lengthAdjust="spacingAndGlyphs">3919.2</text>
</g>
<g>
<path fill="#2196f3" d="M8.5,857 C5.5,857 5.2,852.5 6.5,850.5 C7.5,848.8 9.5,848.3 10.8,848.6 C11.5,844.6 14.2,842 17.5,842 C20.6,842 22.8,844 23.6,846.2 C25.2,845.6 27.6,846 28.6,847.6 C31.8,848.3 33,850.5 32.2,853.6 C31.7,855.8 30.4,857 28.5,857 Z"/>
<polyline points="6.6,855.6 15.8,847.6 22,853.3 28.6,846.6" fill="none" stroke="#ffffff" stroke-width="1.2"/>
<circle cx="15.8" cy="847.6" r="1.8" fill="#ffffff"/><circle cx="22" cy="853.3" r="1.9" fill="#ffffff"/>
</g>
<text x="34.0" y="854.2" font-size="13" fill="#131722" text-anchor="start" textLength="71.5" lengthAdjust="spacingAndGlyphs">TradingView</text>
</svg></body></html>
